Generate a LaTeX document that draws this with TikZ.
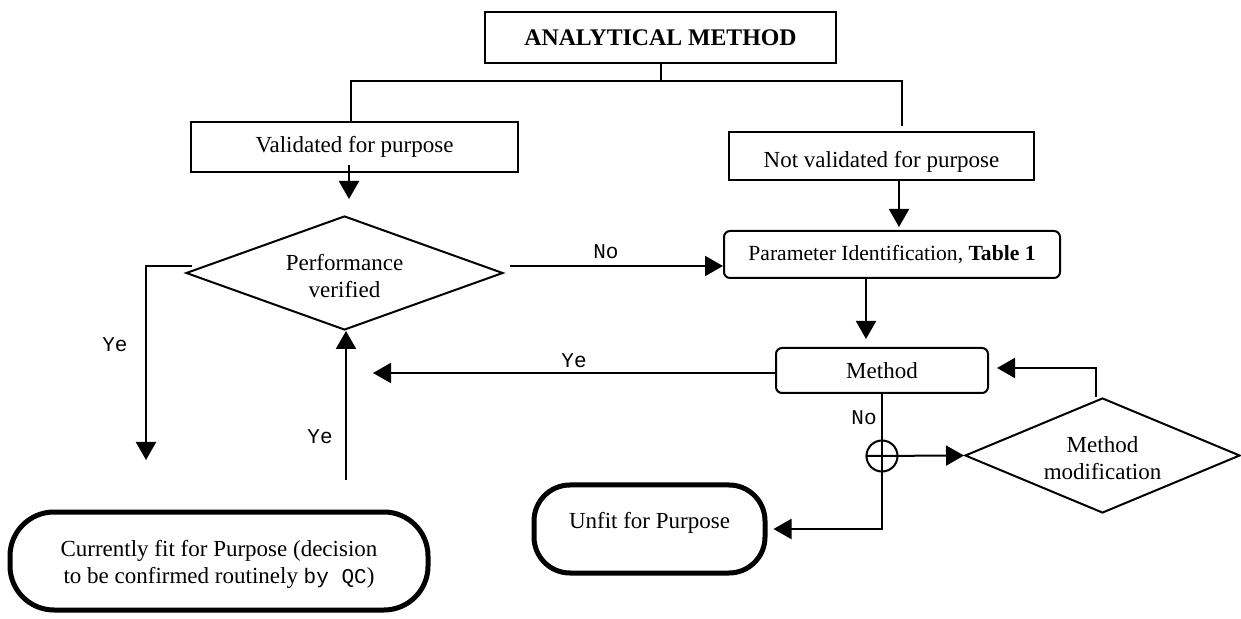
\documentclass[tikz,border=0pt]{standalone}
\usepackage{fontspec}
\setmainfont{Liberation Serif}
\setmonofont{Liberation Mono}
\usetikzlibrary{shapes.geometric,arrows.meta}
\begin{document}
\begin{tikzpicture}[x=0.5pt,y=-0.5pt,
  every node/.style={font=\fontsize{11.5}{13.5}\selectfont, align=center, inner sep=0pt},
  line/.style={line width=1pt},
  arr/.style={line width=1pt,-{Triangle[length=9pt,width=10pt]}},
  sqbox/.style={draw, line width=1pt, rectangle},
  rbox/.style={draw, line width=1pt, rectangle, rounded corners=3pt},
  dec/.style={draw, line width=1pt, diamond},
  term/.style={draw, line width=2.5pt, rectangle},
  lab/.style={font=\fontsize{10.5}{12}\selectfont\ttfamily}
]
\useasboundingbox (0,0) rectangle (1241,619);

\node[sqbox, minimum width=175.5pt, minimum height=25.5pt, font=\fontsize{11.9}{14}\selectfont\bfseries] (am) at (660.5,37.5) {ANALYTICAL METHOD};
\node[sqbox, minimum width=163.5pt, minimum height=25pt] (val) at (354.5,147) {Validated for purpose};
\node[sqbox, minimum width=152.5pt, minimum height=24pt] (nval) at (881.5,156) {\raisebox{-3pt}[\height][\depth]{Not validated for purpose}};
\node[rbox, minimum width=168pt, minimum height=23.5pt, font=\fontsize{10.8}{13}\selectfont] (par) at (892,254.5) {Parameter Identification, \textbf{Table 1}};
\node[rbox, minimum width=106pt, minimum height=22.5pt] (meth) at (882,370.5) {Method};
\node[dec, aspect=2.78, minimum width=158.5pt, minimum height=57pt] (pv) at (344.5,273) {\raisebox{-3pt}[\height][\depth]{\begin{tabular}{@{}c@{}}Performance\\verified\end{tabular}}};
\node[dec, aspect=2.39, minimum width=137.5pt, minimum height=57.5pt] (mm) at (1102.5,455.5) {\raisebox{-2.75pt}[\height][\depth]{\begin{tabular}{@{}c@{}}Method\\modification\end{tabular}}};
\node[term, rounded corners=22pt, minimum width=209pt, minimum height=49pt] (fit) at (219,561) {\raisebox{-2pt}[\height][\depth]{\begin{tabular}{@{}c@{}}Currently fit for Purpose (decision\\to be confirmed routinely {\fontsize{10.5}{13.5}\selectfont\ttfamily by QC})\end{tabular}}};
\node[term, rounded corners=18pt, minimum width=115.5pt, minimum height=44pt] (unfit) at (649.5,529) {\raisebox{3pt}[\height][\depth]{Unfit for Purpose}};
\node[draw, circle, line width=1pt, minimum size=15.5pt] (ox) at (882,456) {};

\coordinate (j) at (660.5,81);
\coordinate (jr) at (902,126);
\coordinate (yl) at (146,460);
\coordinate (yt) at (373,373);
\coordinate (yb) at (346,480);

\draw[line] (am.south) -- (j);
\draw[line] ([xshift=-1.75pt]val.north) |- (j) -| (jr);
\draw[arr, shorten >=4pt] ([xshift=-2.75pt,yshift=4pt]val.south) -- ([xshift=-2.75pt,yshift=4pt]val.south |- pv.north);
\draw[arr] ([xshift=3.5pt,yshift=3.5pt]pv.west) -| (yl);
\node[lab] at (115,345) {Ye};
\draw[arr] ([xshift=3pt,yshift=3.5pt]pv.east) -- ([yshift=-5.75pt]par.west) node[lab, pos=0.45, above=3pt] {No};
\draw[arr, shorten >=1.5pt] ([xshift=8.75pt]nval.south) -- ([xshift=8.75pt]nval.south |- par.north);
\draw[arr, shorten >=4pt] ([xshift=-13pt]par.south) -- ([xshift=-13pt]par.south |- meth.north);
\draw[arr] ([yshift=-1.25pt]meth.west) -- (yt) node[lab, midway, above=2pt] {Ye};
\draw[arr] (meth.south) |- ([xshift=3pt]unfit.east);
\node[lab, anchor=east] at (877,418) {No};
\draw[arr] (ox.west) -- (mm.west);
\draw[arr] ([xshift=-3.5pt]mm.north) |- ([xshift=4pt,yshift=1.25pt]meth.east);
\draw[arr] (yb) -- (yb |- pv.south);
\node[lab] at (320,437) {Ye};
\end{tikzpicture}
\end{document}
